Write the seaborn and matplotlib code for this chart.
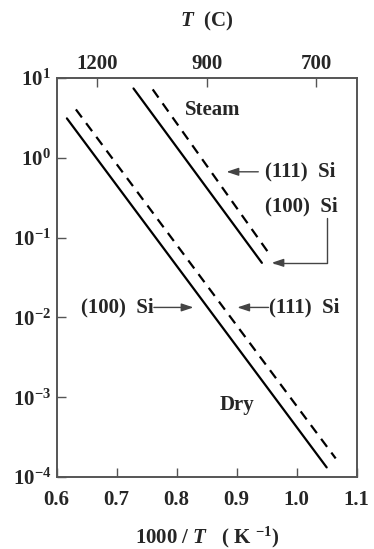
import matplotlib

matplotlib.use("Agg")
import matplotlib.pyplot as plt
import pandas as pd
import seaborn as sns
from matplotlib.ticker import NullLocator

# 酸化速度の直線（対数軸上の直線なので両端の値だけを持つ）
series = ["Dry (100)", "Dry (111)", "Steam (100)", "Steam (111)"]
orientation = ["(100)", "(111)", "(100)", "(111)"]
x_start = [0.617, 0.632, 0.728, 0.760]
x_end = [1.050, 1.065, 0.942, 0.957]
y_start = [3.12, 4.04, 7.4, 7.2]
y_end = [1.32e-4, 1.71e-4, 0.0483, 0.0586]

x_ticks = [0.6, 0.7, 0.8, 0.9, 1.0, 1.1]
x_tick_labels = ["0.6", "0.7", "0.8", "0.9", "1.0", "1.1"]
y_ticks = [1e-4, 1e-3, 1e-2, 1e-1, 1e0, 1e1]
y_tick_labels = [r"$10^{-4}$", r"$10^{-3}$", r"$10^{-2}$",
                 r"$10^{-1}$", r"$10^{0}$", r"$10^{1}$"]
top_ticks = [0.667, 0.851, 1.032]
top_tick_labels = ["1200", "900", "700"]

sns.set_theme(style="ticks")
plt.rcParams["font.family"] = ["Liberation Serif", "DejaVu Serif"]
plt.rcParams["font.weight"] = "bold"
plt.rcParams["mathtext.fontset"] = "custom"
plt.rcParams["mathtext.rm"] = "Liberation Serif:bold"
plt.rcParams["mathtext.it"] = "Liberation Serif:bold:italic"
plt.rcParams["mathtext.bf"] = "Liberation Serif:bold"

fs = 15

line_df = pd.DataFrame({
    "series": series * 2,
    "orientation": orientation * 2,
    "x": x_start + x_end,
    "y": y_start + y_end,
})

fig = plt.figure(figsize=(3.74, 5.49), dpi=100)
ax = fig.add_axes([0.1516, 0.1311, 0.8021, 0.7268])

sns.lineplot(
    data=line_df,
    x="x",
    y="y",
    units="series",
    style="orientation",
    estimator=None,
    sort=False,
    dashes={"(100)": "", "(111)": (4.5, 3.2)},
    color="black",
    linewidth=1.6,
    legend=False,
    ax=ax,
)

ax.set_yscale("log")
ax.set_xlim(0.6, 1.1)
ax.set_ylim(1e-4, 1e1)
ax.set_xticks(x_ticks, x_tick_labels)
ax.set_yticks(y_ticks, y_tick_labels)
ax.yaxis.set_minor_locator(NullLocator())
ax.tick_params(direction="in", length=6.5, width=1.0, color="#555555",
               labelsize=fs, pad=9)
ax.tick_params(axis="y", pad=4)
ax.set_xlabel(r"1000 / $T$   ( K $^{-1}$)", fontsize=fs, fontweight="bold",
              labelpad=11)
ax.set_ylabel("")

ax2 = ax.twiny()
ax2.set_xlim(ax.get_xlim())
ax2.set_xticks(top_ticks, top_tick_labels)
ax2.tick_params(direction="in", length=6.5, width=1.0, color="#555555",
                labelsize=fs, pad=3)
ax2.set_xlabel(r"$T$  (C)", fontsize=fs, fontweight="bold", labelpad=20)

for a in (ax, ax2):
    for lab in a.get_xticklabels() + a.get_yticklabels():
        lab.set_fontweight("bold")
    for spine in a.spines.values():
        spine.set_visible(True)
        spine.set_color("#555555")
        spine.set_linewidth(1.2)

text_style = dict(fontsize=fs, fontweight="bold", va="center")
arrow_style = dict(arrowstyle="-|>,head_length=0.6,head_width=0.2",
                   color="#444444", lw=1.0, shrinkA=0, shrinkB=0)

ax.text(0.814, 3.96, "Steam", ha="left", **text_style)
ax.text(0.872, 8.0e-4, "Dry", ha="left", **text_style)

ax.text(0.947, 0.668, "(111)  Si", ha="left", **text_style)
ax.annotate("", xy=(0.883, 0.668), xytext=(0.936, 0.668),
            arrowprops=arrow_style)

ax.text(0.947, 0.243, "(100)  Si", ha="left", **text_style)
ax.annotate("", xy=(0.958, 0.0483), xytext=(1.050, 0.1755),
            arrowprops=dict(arrow_style,
                            connectionstyle="angle,angleA=90,angleB=0,rad=0"))

ax.text(0.761, 0.01334, "(100)  Si", ha="right", **text_style)
ax.annotate("", xy=(0.828, 0.01334), xytext=(0.762, 0.01334),
            arrowprops=arrow_style)

ax.text(0.954, 0.01334, "(111)  Si", ha="left", **text_style)
ax.annotate("", xy=(0.901, 0.01334), xytext=(0.953, 0.01334),
            arrowprops=arrow_style)

fig.savefig("out.png", dpi=100)
